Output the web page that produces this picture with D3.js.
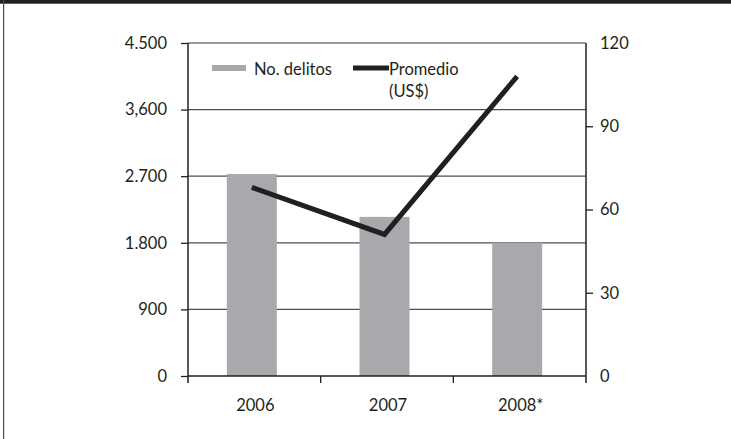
<!DOCTYPE html>
<html>
<head>
<meta charset="utf-8">
<script src="https://cdn.jsdelivr.net/npm/d3@7"></script>
<style>
  html, body { margin: 0; padding: 0; background: #fff; }
  svg { display: block; }
  text { font-family: Lato, "Open Sans", sans-serif; fill: #231f20; }
</style>
</head>
<body>
<script>
const categories = ["2006", "2007", "2008*"];
const delitos = [2730, 2150, 1800];
const promedio = [68, 51, 108];
const leftTicks = [0, 900, 1800, 2700, 3600, 4500];
const leftTickLabels = ["0", "900", "1.800", "2.700", "3,600", "4.500"];
const rightTicks = [0, 30, 60, 90, 120];
const legendLabels = ["No. delitos", "Promedio", "(US$)"];

(function () {
const W = 731, H = 439;
const FS = 16.5;
const svg = d3.select("body").append("svg").attr("width", W).attr("height", H);

// frame
svg.append("rect").attr("x", 0).attr("y", 0).attr("width", W).attr("height", 3.7).attr("fill", "#231f20");
svg.append("rect").attr("x", 3).attr("y", 0).attr("width", 1.2).attr("height", H).attr("fill", "#4d4d4f");

const pLeft = 188, pRight = 586, pTop = 43, pBottom = 376;
const x = d3.scaleBand().domain(categories).range([pLeft, pRight]);
const yL = d3.scaleLinear().domain([0, 4500]).range([pBottom, pTop]);
const yR = d3.scaleLinear().domain([0, 120]).range([pBottom, pTop]);
const barW = 50;
const cx = c => x(c) + x.bandwidth() / 2 - 2.5;

// gridlines
svg.append("g").selectAll("line").data(leftTicks.filter(d => d > 0)).join("line")
  .attr("x1", pLeft).attr("x2", pRight)
  .attr("y1", d => yL(d)).attr("y2", d => yL(d))
  .attr("stroke", d => d === 4500 ? "#77787b" : "#4d4d4f").attr("stroke-width", 1.3);

// bars
svg.append("g").selectAll("rect").data(categories).join("rect")
  .attr("x", c => cx(c) - barW / 2)
  .attr("width", barW)
  .attr("y", (c, i) => yL(delitos[i]))
  .attr("height", (c, i) => pBottom - yL(delitos[i]))
  .attr("fill", "#a7a9ac");

// left axis
const axL = d3.axisLeft(yL).tickValues(leftTicks)
  .tickFormat((d, i) => leftTickLabels[i]).tickSize(7).tickPadding(14).tickSizeOuter(0);
const gL = svg.append("g").attr("transform", `translate(${pLeft},0)`).call(axL);
gL.select(".domain").remove();
gL.selectAll(".tick line").attr("stroke", "#231f20").attr("stroke-width", 1.3);
gL.selectAll(".tick text").attr("font-size", FS).attr("fill", "#231f20");
svg.append("line").attr("x1", pLeft).attr("x2", pLeft).attr("y1", pTop).attr("y2", pBottom + 7)
  .attr("stroke", "#231f20").attr("stroke-width", 1.5);

// right axis
const axR = d3.axisRight(yR).tickValues(rightTicks).tickSize(7).tickPadding(7).tickSizeOuter(0);
const gR = svg.append("g").attr("transform", `translate(${pRight},0)`).call(axR);
gR.select(".domain").remove();
gR.selectAll(".tick line").attr("stroke", "#231f20").attr("stroke-width", 1.3)
  .attr("display", d => (d === 0 || d === 120) ? "none" : null);
gR.selectAll(".tick text").attr("font-size", FS).attr("fill", "#231f20").attr("x", 14);
svg.append("line").attr("x1", pRight).attr("x2", pRight).attr("y1", pTop).attr("y2", pBottom + 7)
  .attr("stroke", "#231f20").attr("stroke-width", 1.5);

// bottom axis
const axB = d3.axisBottom(x).tickSize(0).tickPadding(23);
const gB = svg.append("g").attr("transform", `translate(0,${pBottom})`).call(axB);
gB.select(".domain").remove();
gB.selectAll(".tick text").attr("font-size", FS).attr("fill", "#231f20").attr("dx", 1);
svg.append("line").attr("x1", pLeft).attr("x2", pRight).attr("y1", pBottom).attr("y2", pBottom)
  .attr("stroke", "#231f20").attr("stroke-width", 1.5);
svg.append("g").selectAll("line").data(categories.slice(1)).join("line")
  .attr("x1", c => x(c)).attr("x2", c => x(c))
  .attr("y1", pBottom).attr("y2", pBottom + 7)
  .attr("stroke", "#231f20").attr("stroke-width", 1.3);

// line
const line = d3.line().x((d, i) => cx(categories[i])).y(d => yR(d));
svg.append("path").datum(promedio).attr("d", line)
  .attr("fill", "none").attr("stroke", "#231f20").attr("stroke-width", 5)
  .attr("stroke-linejoin", "miter");

// legend
const lg = svg.append("g");
lg.append("rect").attr("x", 212).attr("y", 65).attr("width", 34).attr("height", 6).attr("fill", "#a7a9ac");
lg.append("text").attr("x", 254).attr("y", 75).attr("font-size", FS).text(legendLabels[0]);
lg.append("rect").attr("x", 353).attr("y", 65.5).attr("width", 36).attr("height", 5).attr("fill", "#231f20");
lg.append("text").attr("x", 389).attr("y", 75).attr("font-size", FS).text(legendLabels[1]);
lg.append("text").attr("x", 389).attr("y", 97).attr("font-size", FS).text(legendLabels[2]);
})();
</script>
</body>
</html>
